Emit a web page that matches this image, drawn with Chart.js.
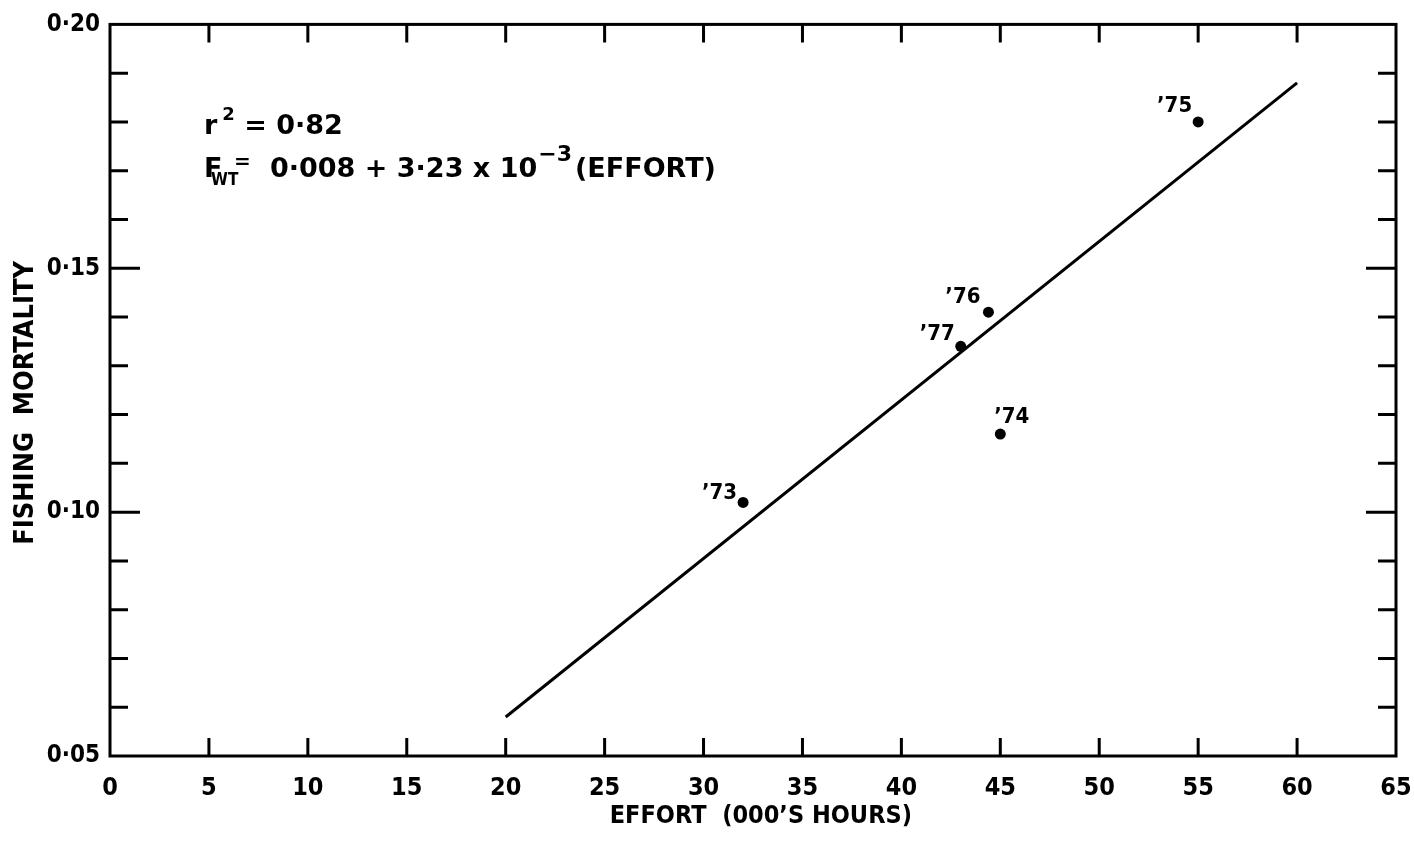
<!DOCTYPE html>
<html>
<head>
<meta charset="utf-8">
<script src="https://cdn.jsdelivr.net/npm/chart.js@4/dist/chart.umd.min.js"></script>
<style>
  html, body { margin: 0; padding: 0; background: #fff; }
  #wrap { width: 1414px; height: 843px; position: relative; }
</style>
</head>
<body>
<div id="wrap"><canvas id="c"></canvas></div>
<script>
// Annual effort (thousands of hours) and fishing mortality, 1973-1977
const seasonLabels = ['\u201973', '\u201974', '\u201975', '\u201976', '\u201977'];
const effort = [32.0, 45.0, 55.0, 44.4, 43.0];
const mortality = [0.102, 0.116, 0.180, 0.141, 0.134];

// Fitted regression line end points
const fitEffort = [20, 60];
const fitMortality = [0.058, 0.188];

// Axis tick labels
const xTickValues = [0, 5, 10, 15, 20, 25, 30, 35, 40, 45, 50, 55, 60, 65];
const xTickLabels = ['0', '5', '10', '15', '20', '25', '30', '35', '40', '45', '50', '55', '60', '65'];
const yTickValues = [0.05, 0.10, 0.15, 0.20];
const yTickLabels = ['0\u00b705', '0\u00b710', '0\u00b715', '0\u00b720'];

// Regression statistics shown on the plot
const rSquared = '0\u00b782';
const fitEquation = { lhs: 'F', lhsSub: 'WT', body: '0\u00b7008 + 3\u00b723 x 10', exp: '\u22123', tail: '(EFFORT)' };

const condensed = "'DejaVu Sans Condensed', 'Liberation Sans Narrow', 'DejaVu Sans', sans-serif";
const wide = "'DejaVu Sans', sans-serif";

function labelFor(values, labels, v) {
  for (let i = 0; i < values.length; i++) {
    if (Math.abs(values[i] - v) < 1e-7) return labels[i];
  }
  return '';
}

// Per-label offsets of the season tags relative to their point (px)
const tagOffsets = [
  { dx: -6, dy: -3, align: 'right' },
  { dx: -6, dy: -11, align: 'left' },
  { dx: -6, dy: -10, align: 'right' },
  { dx: -8, dy: -9, align: 'right' },
  { dx: -6, dy: -6, align: 'right' }
];

// Frame with inward ticks on all four sides
const framePlugin = {
  id: 'frameTicks',
  afterDatasetsDraw(chart) {
    const { ctx, chartArea: a, scales: { x, y } } = chart;
    ctx.save();
    ctx.strokeStyle = '#000';
    ctx.lineWidth = 3;
    ctx.lineCap = 'butt';
    ctx.strokeRect(a.left, a.top, a.right - a.left, a.bottom - a.top);
    ctx.beginPath();
    x.ticks.forEach(t => {
      if (t.value <= x.min || t.value >= x.max) return;
      const px = x.getPixelForValue(t.value);
      ctx.moveTo(px, a.bottom); ctx.lineTo(px, a.bottom - 18);
      ctx.moveTo(px, a.top); ctx.lineTo(px, a.top + 18);
    });
    y.ticks.forEach(t => {
      if (t.value <= y.min + 1e-9 || t.value >= y.max - 1e-9) return;
      const py = y.getPixelForValue(t.value);
      const len = labelFor(yTickValues, yTickLabels, t.value) ? 30 : 18;
      ctx.moveTo(a.left, py); ctx.lineTo(a.left + len, py);
      ctx.moveTo(a.right, py); ctx.lineTo(a.right - len, py);
    });
    ctx.stroke();
    ctx.restore();
  }
};

// Season tags next to the points
const tagPlugin = {
  id: 'seasonTags',
  afterDatasetsDraw(chart) {
    const { ctx, scales: { x, y } } = chart;
    ctx.save();
    ctx.fillStyle = '#000';
    ctx.font = "bold 22px " + condensed;
    ctx.textBaseline = 'alphabetic';
    seasonLabels.forEach((lab, i) => {
      const o = tagOffsets[i];
      const px = x.getPixelForValue(effort[i]);
      const py = y.getPixelForValue(mortality[i]);
      ctx.textAlign = o.align;
      ctx.fillText(lab, px + o.dx, py + o.dy);
    });
    ctx.restore();
  }
};

// Regression statistics text block
const statsPlugin = {
  id: 'statsText',
  afterDatasetsDraw(chart) {
    const { ctx, chartArea: a } = chart;
    const x0 = a.left + 94;
    const base1 = a.top + 110;
    const base2 = a.top + 153;
    ctx.save();
    ctx.fillStyle = '#000';
    ctx.textAlign = 'left';
    ctx.textBaseline = 'alphabetic';
    const seg = (text, size, x, base, fam) => {
      ctx.font = 'bold ' + size + 'px ' + (fam || wide);
      ctx.fillText(text, x, base);
      return x + ctx.measureText(text).width;
    };
    // line 1: r^2 = value
    let cx = seg('r', 27, x0, base1);
    cx = seg('2', 18, cx + 5, base1 - 14);
    seg(' = ' + rSquared, 27, cx, base1);
    // line 2: fitted equation
    seg(fitEquation.lhs, 27, x0, base2);
    seg(fitEquation.lhsSub, 17, x0 + 7, base2 + 8, condensed);
    seg('=', 20, x0 + 30, base2 - 9);
    cx = seg(fitEquation.body, 27, x0 + 66, base2);
    cx = seg(fitEquation.exp, 22, cx + 1, base2 - 16);
    seg(fitEquation.tail, 27, cx + 3, base2);
    ctx.restore();
  }
};

const points = effort.map((e, i) => ({ x: e, y: mortality[i] }));
const fitLine = fitEffort.map((e, i) => ({ x: e, y: fitMortality[i] }));

new Chart(document.getElementById('c'), {
  type: 'scatter',
  data: {
    datasets: [
      {
        label: 'Observed',
        data: points,
        pointRadius: 5.5,
        pointBackgroundColor: '#000',
        pointBorderWidth: 0,
        showLine: false
      },
      {
        label: 'Fit',
        data: fitLine,
        showLine: true,
        borderColor: '#000',
        borderWidth: 3,
        pointRadius: 0,
        fill: false
      }
    ]
  },
  options: {
    responsive: true,
    maintainAspectRatio: false,
    animation: false,
    devicePixelRatio: 1,
    layout: { padding: { left: 0, top: 22, right: 0, bottom: 0 } },
    plugins: { legend: { display: false }, tooltip: { enabled: false } },
    scales: {
      x: {
        type: 'linear',
        min: 0,
        max: 65,
        grid: { display: false, drawTicks: false },
        border: { display: false },
        afterBuildTicks: s => { s.ticks = xTickValues.map(v => ({ value: v })); },
        afterFit: s => { s.height = 87; s.paddingLeft = 0; s.paddingRight = 18; },
        ticks: {
          autoSkip: false,
          maxRotation: 0,
          padding: 17,
          color: '#000',
          font: { family: condensed, weight: 'bold', size: 25 },
          callback: v => labelFor(xTickValues, xTickLabels, v)
        },
        title: {
          display: true,
          text: '  EFFORT  (000\u2019S HOURS)',
          color: '#000',
          font: { family: condensed, weight: 'bold', size: 25 },
          padding: { top: 0, bottom: 12 }
        }
      },
      y: {
        type: 'linear',
        min: 0.05,
        max: 0.20,
        grid: { display: false, drawTicks: false },
        border: { display: false },
        afterFit: s => { s.width = 110; },
        ticks: {
          stepSize: 0.01,
          autoSkip: false,
          padding: 10,
          color: '#000',
          font: { family: condensed, weight: 'bold', size: 24 },
          callback: v => labelFor(yTickValues, yTickLabels, v)
        },
        title: {
          display: true,
          text: 'FISHING  MORTALITY   ',
          color: '#000',
          font: { family: condensed, weight: 'bold', size: 27 },
          padding: { top: 10, bottom: 0 }
        }
      }
    }
  },
  plugins: [framePlugin, tagPlugin, statsPlugin]
});
</script>
</body>
</html>
